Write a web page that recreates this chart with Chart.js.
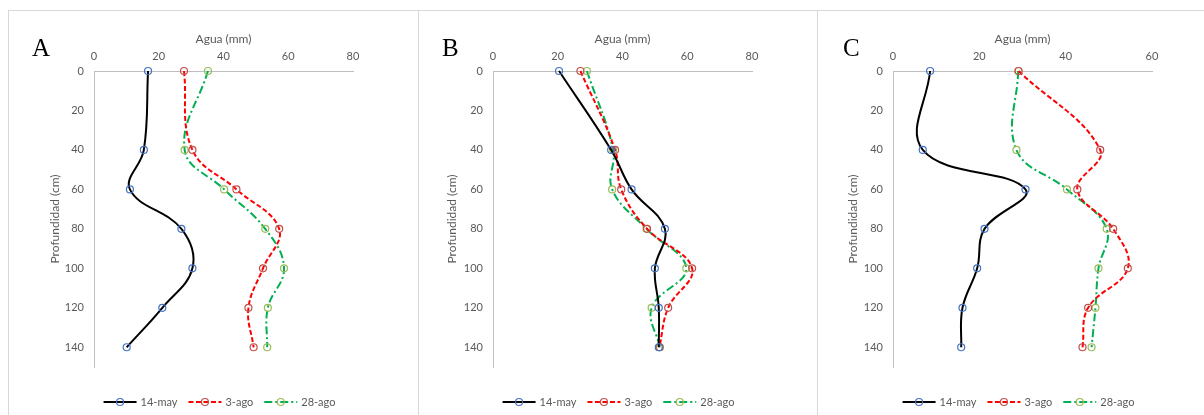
<!DOCTYPE html>
<html>
<head>
<meta charset="utf-8">
<script src="https://cdn.jsdelivr.net/npm/chart.js@4.4.1/dist/chart.umd.min.js"></script>
<style>
  body { margin: 0; background: #fff; width: 1204px; height: 415px; overflow: hidden; position: relative; }
  canvas { position: absolute; top: 10px; }
  .hline { position: absolute; top: 10px; left: 8px; width: 1196px; height: 1px; background: #d9d9d9; }
  .vline { position: absolute; top: 10px; width: 1px; height: 405px; background: #d9d9d9; }
</style>
</head>
<body>
<div class="hline"></div>
<div class="vline" style="left:8px"></div>
<div class="vline" style="left:418px"></div>
<div class="vline" style="left:817px"></div>
<canvas id="chartA" width="410" height="405" style="left:8px"></canvas>
<canvas id="chartB" width="399" height="405" style="left:418px"></canvas>
<canvas id="chartC" width="387" height="405" style="left:817px"></canvas>
<script>
// depth of each sample (cm)
const depths = [0, 40, 60, 80, 100, 120, 140];
const seriesNames = ['14-may', '3-ago', '28-ago'];
const xTicksAB = [0, 20, 40, 60, 80];
const xTicksC = [0, 20, 40, 60];
const yTicks = [0, 20, 40, 60, 80, 100, 120, 140];

// water (mm) per depth, panel A
const waterA_may14 = [16.7, 15.4, 11.1, 27.0, 30.4, 21.1, 10.1];
const waterA_ago3 = [27.8, 30.4, 44.0, 57.2, 52.2, 47.7, 49.3];
const waterA_ago28 = [35.2, 28.0, 40.2, 52.9, 58.7, 53.7, 53.5];

// panel B
const waterB_may14 = [20.4, 36.5, 42.8, 53.1, 50.0, 51.2, 51.2];
const waterB_ago3 = [27.0, 37.7, 39.6, 47.6, 61.5, 54.1, 51.4];
const waterB_ago28 = [29.0, 37.1, 36.8, 47.4, 59.7, 49.0, 51.6];

// panel C
const waterC_may14 = [8.6, 6.9, 30.7, 21.2, 19.5, 16.1, 15.8];
const waterC_ago3 = [29.1, 48.0, 42.7, 51.0, 54.4, 45.2, 43.9];
const waterC_ago28 = [29.0, 28.6, 40.3, 49.5, 47.6, 46.9, 46.0];

const textColor = '#595959';
const axisColor = '#bfbfbf';
const fontFamily = 'Lato, "Liberation Sans", sans-serif';

// line look for each series
const styles = [
  { line: '#000000', point: '#4472C4', dash: [] },
  { line: '#FF0000', point: '#C0504D', dash: [5, 2.5] },
  { line: '#00B050', point: '#9BBB59', dash: [8, 3, 2, 3] }
];

function makeDatasets(cols) {
  return cols.map((vals, i) => ({
    label: seriesNames[i],
    data: vals.map((v, k) => ({ x: v, y: depths[k] })),
    showLine: true,
    tension: 0.4,
    borderColor: styles[i].line,
    borderWidth: 2,
    borderDash: styles[i].dash,
    pointRadius: 3.5,
    pointBorderWidth: 1.2,
    pointBorderColor: styles[i].point,
    pointBackgroundColor: 'transparent',
    clip: false
  }));
}

// legend under the plot: short line with its marker, then the label
const bottomLegend = {
  id: 'bottomLegend',
  afterDraw(chart, args, opts) {
    const ctx = chart.ctx;
    const area = chart.chartArea;
    ctx.save();

    // panel letter
    ctx.font = '25px "Liberation Serif", serif';
    ctx.fillStyle = '#000';
    ctx.textBaseline = 'alphabetic';
    ctx.textAlign = 'left';
    ctx.fillText(opts.letter, opts.letterX, 46);

    ctx.font = '11px ' + fontFamily;
    const lineLen = 33, gapText = 4, gapItem = 11;
    const sets = chart.data.datasets;
    const widths = sets.map(ds => lineLen + gapText + ctx.measureText(ds.label).width);
    const total = widths.reduce((a, b) => a + b, 0) + gapItem * (sets.length - 1);
    let x = (area.left + area.right) / 2 - 4 - total / 2;
    const y = 392;
    sets.forEach((ds, i) => {
      ctx.strokeStyle = ds.borderColor;
      ctx.lineWidth = ds.borderWidth;
      ctx.setLineDash(ds.borderDash);
      ctx.beginPath();
      ctx.moveTo(x, y);
      ctx.lineTo(x + lineLen, y);
      ctx.stroke();
      ctx.setLineDash([]);
      ctx.beginPath();
      ctx.arc(x + lineLen / 2, y, ds.pointRadius, 0, Math.PI * 2);
      ctx.strokeStyle = ds.pointBorderColor;
      ctx.lineWidth = ds.pointBorderWidth;
      ctx.stroke();
      ctx.fillStyle = textColor;
      ctx.textBaseline = 'middle';
      ctx.fillText(ds.label, x + lineLen + gapText, y);
      x += widths[i] + gapItem;
    });
    ctx.restore();
  }
};

function makeChart(id, cols, xTicks, yAxisWidth, yTitlePad, padRight, letter, letterX) {
  const ctx = document.getElementById(id).getContext('2d');
  return new Chart(ctx, {
    type: 'scatter',
    data: { datasets: makeDatasets(cols) },
    plugins: [bottomLegend],
    options: {
      responsive: false,
      devicePixelRatio: 1,
      animation: false,
      layout: { padding: { left: 0, top: 0, right: padRight, bottom: 48 } },
      plugins: {
        legend: { display: false },
        tooltip: { enabled: false },
        bottomLegend: { letter: letter, letterX: letterX }
      },
      scales: {
        x: {
          type: 'linear',
          position: 'top',
          min: xTicks[0],
          max: xTicks[xTicks.length - 1],
          afterBuildTicks(scale) { scale.ticks = xTicks.map(v => ({ value: v })); },
          ticks: { color: textColor, font: { family: fontFamily, size: 11 }, padding: 8 },
          grid: { display: false, drawTicks: false },
          border: { display: true, color: axisColor, width: 1 },
          title: { display: true, text: 'Agua (mm)', color: textColor,
                   font: { family: fontFamily, size: 12 }, padding: { top: 22, bottom: 0 } },
          afterFit(scale) { scale.height = 61; }
        },
        y: {
          type: 'linear',
          reverse: true,
          min: 0,
          max: 150,
          afterBuildTicks(scale) { scale.ticks = yTicks.map(v => ({ value: v })); },
          ticks: { color: textColor, font: { family: fontFamily, size: 11 }, padding: 10 },
          grid: { display: false, drawTicks: false },
          border: { display: true, color: axisColor, width: 1 },
          title: { display: true, text: 'Profundidad (cm)', color: textColor,
                   font: { family: fontFamily, size: 12 }, padding: { top: yTitlePad, bottom: 0 } },
          afterFit(scale) { scale.width = yAxisWidth; }
        }
      }
    }
  });
}

makeChart('chartA', [waterA_may14, waterA_ago3, waterA_ago28], xTicksAB, 86, 40, 65, 'A', 24);
makeChart('chartB', [waterB_may14, waterB_ago3, waterB_ago28], xTicksAB, 75, 27, 65, 'B', 24);
makeChart('chartC', [waterC_may14, waterC_ago3, waterC_ago28], xTicksC, 76, 29, 52, 'C', 26);
</script>
</body>
</html>
